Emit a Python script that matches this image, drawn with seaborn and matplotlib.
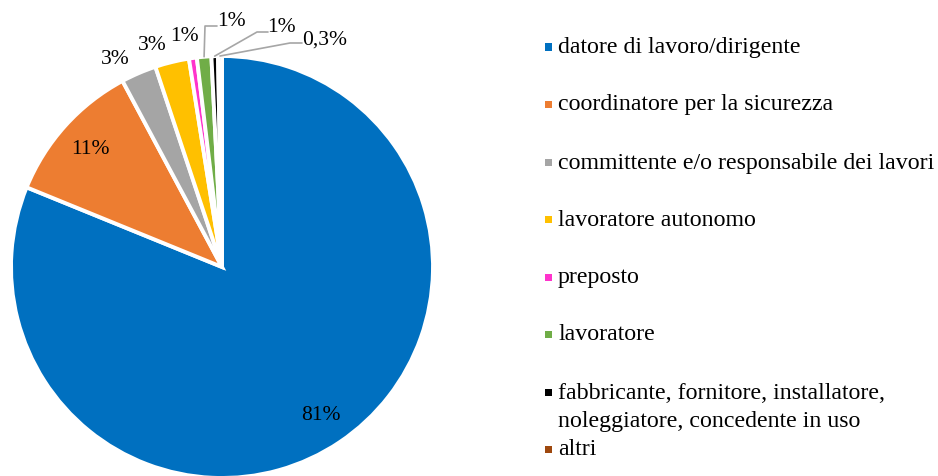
import numpy as np
import matplotlib.pyplot as plt
import seaborn as sns
from matplotlib.patches import Rectangle

sns.set_theme(style='white')
plt.rcParams['font.family'] = ['Liberation Serif', 'DejaVu Serif']

# Data
categorie = ['datore di lavoro/dirigente', 'coordinatore per la sicurezza',
             'committente e/o responsabile dei lavori', 'lavoratore autonomo',
             'preposto', 'lavoratore',
             'fabbricante, fornitore, installatore,\nnoleggiatore, concedente in uso',
             'altri']
valori = [81.0, 11.0, 2.7, 2.6, 0.6, 1.1, 0.5, 0.3]
etichette = ['81%', '11%', '3%', '3%', '1%', '1%', '1%', '0,3%']
colori = ['#0070C0', '#ED7D31', '#A5A5A5', '#FFC000', '#FF33CC', '#70AD47',
          '#000000', '#9E480E']

W, H, DPI = 938, 477, 100
fig = plt.figure(figsize=(W / DPI, H / DPI), dpi=DPI)
ax = fig.add_axes([0, 0, 1, 1])

# pie geometry in pixels (center and radius)
cx, cy, R = 222, 268, 211

wedges, _ = ax.pie(valori, colors=colori, startangle=90, counterclock=False,
                   radius=1.0, center=(0, 0), frame=True,
                   wedgeprops=dict(edgecolor='white', linewidth=2.8))
ax.set_xlim(-cx / R, (W - cx) / R)
ax.set_ylim(-(H - cy) / R, cy / R)
ax.set_aspect('equal')
ax.axis('off')

def px(x, y):
    return ((x - cx) / R, (cy - y) / R)

# label placement outside the pie: text pos and leader (elbow, end) in px
pos_fuori = {2: ((115, 60), None), 3: ((152, 46), None), 4: ((184, 37), None),
             5: ((231, 22), ((205, 27), (217, 27))),
             6: ((281, 28), ((257, 33), (268, 33))),
             7: ((325, 40), ((290, 44), (302, 44)))}

fs_lab = 15.5
for i, w in enumerate(wedges):
    ang = np.deg2rad((w.theta1 + w.theta2) / 2)
    if i in pos_fuori:
        (tx, ty), leader = pos_fuori[i]
        x, y = px(tx, ty)
        ax.text(x, y, etichette[i], ha='center', va='center', fontsize=fs_lab,
                color='#000000')
        if leader is not None:
            e = (np.cos(ang), np.sin(ang))
            p1 = px(*leader[0])
            p2 = px(*leader[1])
            ax.plot([e[0], p1[0], p2[0]], [e[1], p1[1], p2[1]],
                    color='#A6A6A6', lw=1.2)
    else:
        r = 0.84
        ax.text(r * np.cos(ang), r * np.sin(ang), etichette[i], ha='center',
                va='center', fontsize=fs_lab, color='#000000')

# legend
righe = [48, 105, 163, 220, 278, 335, 393, 450]
for i, cat in enumerate(categorie):
    yc = righe[i]
    fig.add_artist(Rectangle(((548 - 3.5) / W, 1 - (yc + 3.5) / H), 7 / W, 7 / H,
                             transform=fig.transFigure, color=colori[i], lw=0))
    n = cat.count('\n')
    ytxt = yc + n * 29 / 2
    fig.text(558 / W, 1 - ytxt / H, cat, ha='left', va='center', fontsize=17.2,
             linespacing=1.45, color='#000000')

fig.savefig('out.png', dpi=DPI)
